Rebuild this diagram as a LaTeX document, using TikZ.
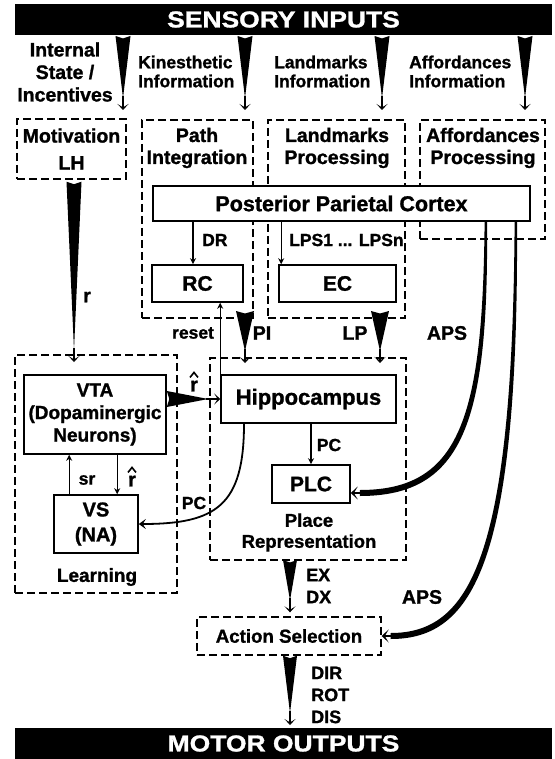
\documentclass[tikz,border=0pt]{standalone}
\usepackage{fontspec}
\setmainfont{Liberation Sans}[BoldFeatures={FakeBold=1.2}]
\usepackage{graphicx}
\usetikzlibrary{arrows.meta,calc}
\newcommand{\fsz}[2]{\fontsize{#1}{#2}\selectfont}
\newcommand{\fatarr}[3]{%
  \fill ($(#1)!#3!90:(#2)$) -- ($(#1)!2.5pt!(#2)$) -- ($(#1)!#3!-90:(#2)$) -- ($(#2)!12pt!(#1)$) -- cycle;
  \draw[chev] ($(#2)!14pt!(#1)$) -- (#2);
}
\newcommand{\hatover}[1]{%
  \draw[line width=1.6pt, line join=miter] ($(#1.north)+(-4,-3)$) -- ($(#1.north)+(0,-8)$) -- ($(#1.north)+(4,-3)$);
}
\begin{document}
\begin{tikzpicture}[x=1pt,y=-1pt,
  dbox/.style={draw, dash pattern=on 8pt off 4pt, line width=1.4pt, inner sep=0pt},
  sbox/.style={draw, line width=1.6pt, fill=white, inner sep=0pt, align=center},
  bar/.style={fill=black, text=white, inner sep=0pt, minimum width=537pt, minimum height=31pt},
  thinarr/.style={line width=1.3pt, -{Stealth[length=6pt,width=6pt]}},
  chev/.style={line width=1.2pt, -{Stealth[length=6pt,width=11pt,inset=3.5pt]}},
  bigchev/.style={line width=1.6pt, -{Stealth[length=7pt,width=13pt,inset=4pt]}},
  lbl/.style={inner sep=0pt, align=center},
  fa/.style={font=\bfseries\fsz{17.5}{19}},
  fb/.style={font=\bfseries\fsz{19.5}{22}},
  fc/.style={font=\bfseries\fsz{21}{24}},
]
\useasboundingbox (0,0) rectangle (554,759);

% bars
\node[bar, font=\bfseries\fsz{23}{25}] (sens) at (283.5,19.5) {\scalebox{1.15}[1]{SENSORY INPUTS}};
\node[bar, font=\bfseries\fsz{23}{25}] (motor) at (283.5,743.5) {\scalebox{1.15}[1]{MOTOR OUTPUTS}};

% dashed boxes
\node[dbox, minimum width=109pt, minimum height=60pt, fb, align=center] (mot) at (71.5,149) {Motivation\\[5pt]LH};
\node[dbox, minimum width=111pt, minimum height=198pt] (path) at (197.5,219) {};
\node[dbox, minimum width=137pt, minimum height=198pt] (land) at (336.5,219) {};
\node[dbox, minimum width=125pt, minimum height=119pt] (aff) at (482.5,179.5) {};
\node[dbox, minimum width=196pt, minimum height=202pt] (place) at (308,459) {};
\node[dbox, minimum width=162pt, minimum height=238pt] (learn) at (96,474) {};
\node[dbox, minimum width=184pt, minimum height=38pt, font=\bfseries\fsz{18.7}{21}] (act) at (289,636) {Action Selection};

% labels of dashed boxes
\node[lbl, fb] (pathT) at (197,148) {Path\\Integration};
\node[lbl, fb] (landT) at (337,148) {Landmarks\\Processing};
\node[lbl, fb] (affT) at (483,148) {Affordances\\Processing};
\node[lbl, font=\bfseries\fsz{18.5}{21}] (placeT) at (309,532.5) {Place\\Representation};
\node[lbl, font=\bfseries\fsz{19}{22}] (learnT) at (97,577) {Learning};

% solid boxes
\node[sbox, minimum width=377pt, minimum height=35pt, font=\bfseries\fsz{21.5}{24}] (ppc) at (341.5,203.5) {Posterior Parietal Cortex};
\node[sbox, minimum width=91pt, minimum height=37pt, fc] (rc) at (197.5,283.5) {RC};
\node[sbox, minimum width=117pt, minimum height=37pt, fc] (ec) at (337.5,283.5) {EC};
\node[sbox, minimum width=142pt, minimum height=79pt, font=\bfseries\fsz{19}{22.5}] (vta) at (95,414.5) {VTA\\(Dopaminergic\\Neurons)};
\node[sbox, minimum width=175pt, minimum height=48pt, font=\bfseries\fsz{22}{24}] (hip) at (308.5,399) {Hippocampus};
\node[sbox, minimum width=78pt, minimum height=38pt, fc] (plc) at (311,484) {PLC};
\node[sbox, minimum width=84pt, minimum height=58pt, font=\bfseries\fsz{20}{25}] (vs) at (96,524) {VS\\(NA)};

% top input labels
\node[lbl, font=\bfseries\fsz{19.5}{22.5}] (lIS) at (65,72) {Internal\\State /\\Incentives};
\node[lbl, fa, align=left, anchor=west] (lKI) at (138,71.5) {Kinesthetic\\Information};
\node[lbl, fa, align=left, anchor=west] (lLI) at (274,71.5) {Landmarks\\Information};
\node[lbl, fa, align=left, anchor=west] (lAI) at (409,71.5) {Affordances\\Information};

% wedge end points
\coordinate (t1a) at (123,36);  \coordinate (t1b) at (123,110);
\coordinate (t2a) at (245,36);  \coordinate (t2b) at (245,110);
\coordinate (t3a) at (382,36);  \coordinate (t3b) at (382,110);
\coordinate (t4a) at (525,36);  \coordinate (t4b) at (525,110);
\coordinate (ra) at ($(mot.south)+(2.5,2)$);   \coordinate (rb) at (74,362);
\coordinate (pia) at (245,311); \coordinate (pib) at (245,363);
\coordinate (lpa) at (380,311); \coordinate (lpb) at (380,363);
\coordinate (exa) at (290,560); \coordinate (exb) at ($(act.north)+(1,-4)$);
\coordinate (dira) at ($(act.south)+(1,0)$); \coordinate (dirb) at (290,725);
\coordinate (vha) at ($(vta.east)+(0,-15.5)$); \coordinate (vhb) at (hip.west);

\fatarr{t1a}{t1b}{7.5pt}
\fatarr{t2a}{t2b}{7.5pt}
\fatarr{t3a}{t3b}{7.5pt}
\fatarr{t4a}{t4b}{7.5pt}
\fatarr{ra}{rb}{7.5pt}
\fatarr{pia}{pib}{9pt}
\fatarr{lpa}{lpb}{9pt}
\fatarr{exa}{exb}{7pt}
\fatarr{dira}{dirb}{7pt}
\fatarr{vha}{vhb}{8pt}

% thin arrows
\coordinate (drB) at ($(rc.north)+(-4.5,0)$);
\coordinate (lpsB) at ($(ec.north west)+(3,0)$);
\coordinate (rsA) at (hip.north west);
\coordinate (srB) at ($(vs.north west)+(16,0)$);
\coordinate (rhB) at ($(vs.north west)+(64,0)$);
\draw[thinarr] (drB |- ppc.south) -- (drB);
\draw[thinarr] (lpsB |- ppc.south) -- (lpsB);
\draw[thinarr] (rsA) -- (rsA |- rc.south);
\draw[thinarr] (plc.north |- hip.south) -- (plc.north);
\draw[thinarr] (srB) -- (srB |- vta.south);
\draw[thinarr] (rhB |- vta.south) -- (rhB);

% PC curve hippocampus -> VS
\draw[line width=1.8pt, -{Stealth[length=7pt,width=10pt,inset=3pt]}] ($(hip.south)+(-64.5,0)$) .. controls +(0,82) and +(77,0) .. (vs.east);

% APS curves (tapered)
\coordinate (a1s) at ($(ppc.south east)+(-45,0)$);
\coordinate (a1e) at ($(plc.east)+(0,9)$);
\coordinate (a2s) at ($(ppc.south east)+(-15,0)$);
\coordinate (a2e) at (act.east);
\fill ($(a1s)+(1.2,0)$) .. controls ($(a1s)+(3,199)$) and ($(a1e)+(113,3)$) .. ($(a1e)+(9,3)$)
  -- ($(a1e)+(9,-3)$) .. controls ($(a1e)+(109,-3)$) and ($(a1s)+(-3,197)$) .. ($(a1s)+(-1.2,0)$) -- cycle;
\draw[bigchev] ($(a1e)+(12,0)$) -- (a1e);
\fill ($(a2s)+(1.2,0)$) .. controls ($(a2s)+(3,340)$) and ($(a2e)+(92,3)$) .. ($(a2e)+(9,3)$)
  -- ($(a2e)+(9,-3)$) .. controls ($(a2e)+(88,-3)$) and ($(a2s)+(-3,337)$) .. ($(a2s)+(-1.2,0)$) -- cycle;
\draw[bigchev] ($(a2e)+(12,0)$) -- (a2e);

% connector labels
\node[lbl, fa, anchor=west] (lDR) at (202,240) {DR};
\node[lbl, fa, anchor=west] (lLPS) at (289,240) {LPS1 ... LPSn};
\node[lbl, fb] (lr) at (87,297) {r};
\node[lbl, fa] (lreset) at (193,333) {reset};
\node[lbl, fb] (lPI) at (262,333) {PI};
\node[lbl, fb] (lLP) at (355,333) {LP};
\node[lbl, fb] (lAPS1) at (447,333) {APS};
\node[lbl, font=\bfseries\fsz{20}{22}] (lrh1) at (194,386) {r};
\hatover{lrh1}
\node[lbl, fa] (lPC1) at (329,445) {PC};
\node[lbl, fa] (lsr) at (87,480) {sr};
\node[lbl, font=\bfseries\fsz{20}{22}] (lrh2) at (132,481) {r};
\hatover{lrh2}
\node[lbl, fa] (lPC2) at (194,503) {PC};
\node[lbl, font=\bfseries\fsz{18}{22}, align=left, anchor=west] (lEX) at (306,586) {EX\\DX};
\node[lbl, fb] (lAPS2) at (422,597) {APS};
\node[lbl, font=\bfseries\fsz{18}{22}, align=left, anchor=west] (lDIR) at (311,695) {DIR\\ROT\\DIS};
\end{tikzpicture}
\end{document}
